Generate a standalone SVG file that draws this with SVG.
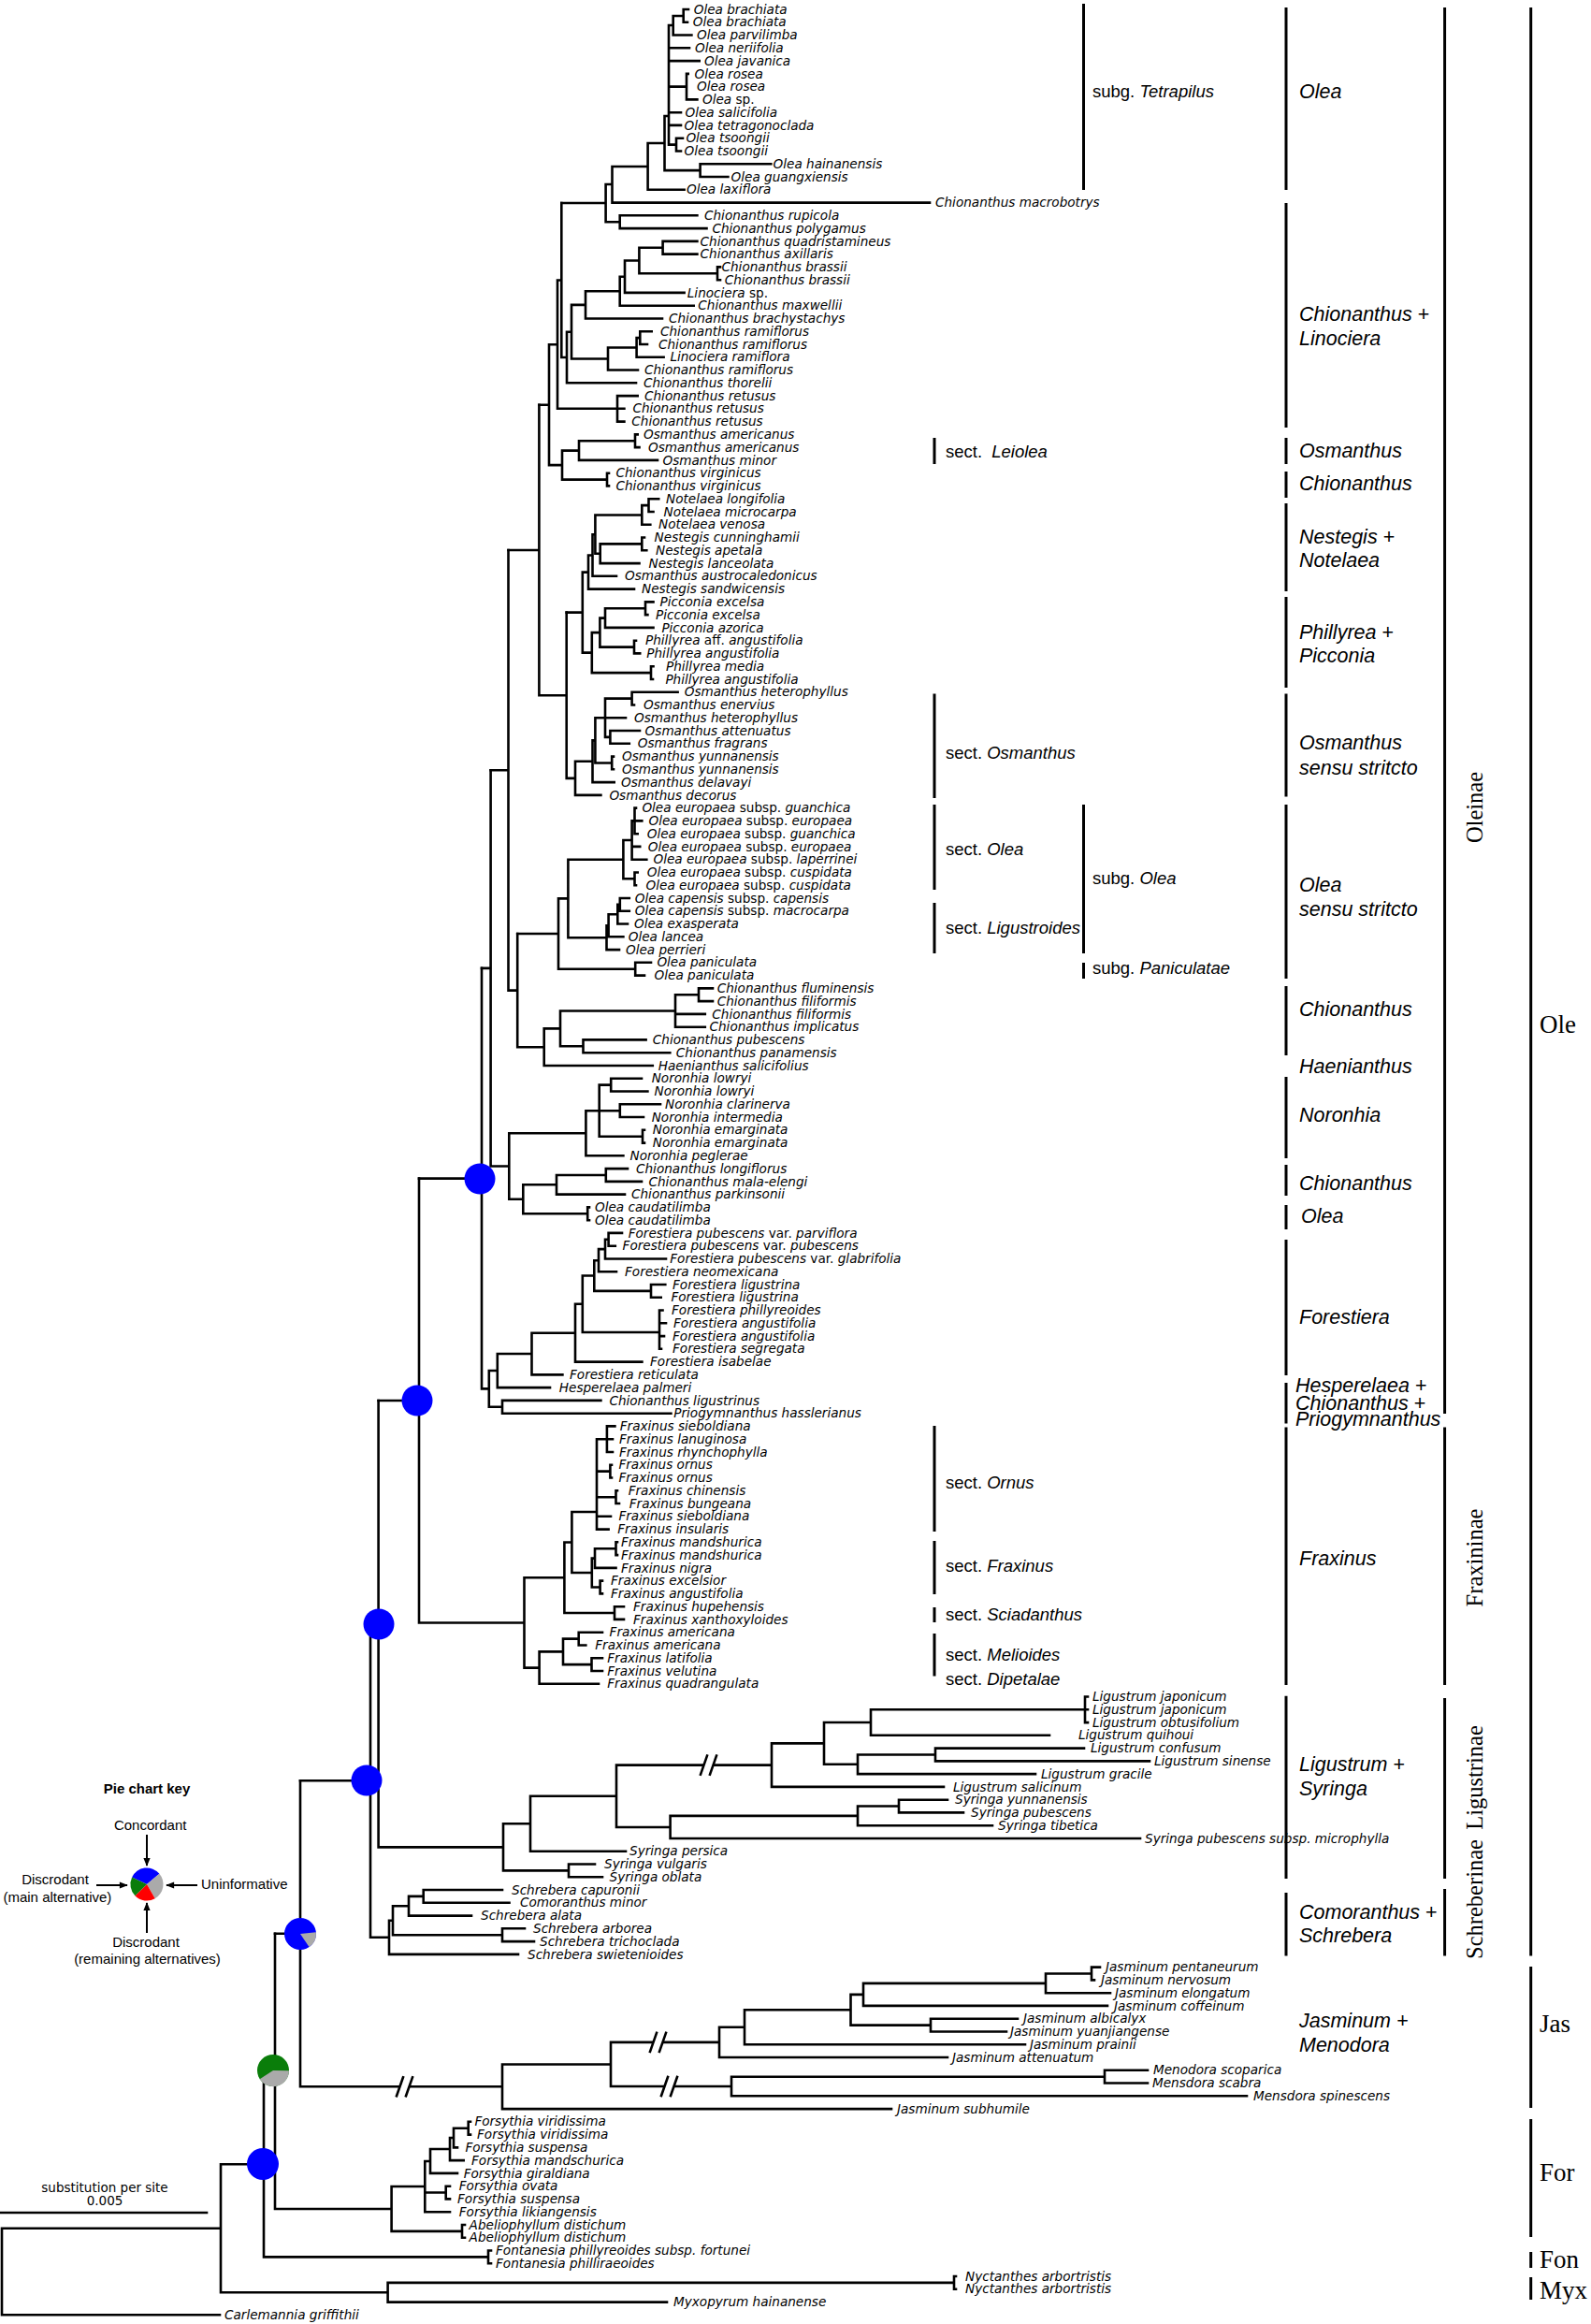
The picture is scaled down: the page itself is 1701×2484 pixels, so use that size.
<svg xmlns="http://www.w3.org/2000/svg" width="1701" height="2484" viewBox="0 0 1701 2484">
<style>
.br{fill:none;stroke:#000;stroke-width:2.6;stroke-linecap:square}
.bar{fill:none;stroke:#000;stroke-width:3}
.t{font-family:"DejaVu Sans",sans-serif;font-size:13.6px;font-style:italic;fill:#000}
.n{font-style:normal}
.i{font-style:italic}
.cl{font-family:"Liberation Sans",Arial,sans-serif;font-size:21.5px;font-style:italic;fill:#000}
.sc{font-family:"Liberation Sans",Arial,sans-serif;font-size:18.5px;fill:#000}
.rt{font-family:"Liberation Serif","Times New Roman",serif;font-size:24.5px;fill:#000}
.tr{font-family:"Liberation Serif","Times New Roman",serif;font-size:27px;fill:#000}
.k{font-family:"Liberation Sans",Arial,sans-serif;font-size:15px;fill:#000}
.sb{font-family:"DejaVu Sans",sans-serif;font-size:13.5px;fill:#000}
.ar{stroke:#000;stroke-width:2;fill:none}
</style>
<defs>
<marker id="ah" viewBox="0 0 10 10" refX="9" refY="5" markerWidth="10" markerHeight="9" orient="auto" markerUnits="userSpaceOnUse"><path d="M0,1 L10,5 L0,9 z" fill="#000"/></marker>
</defs>
<rect width="1701" height="2484" fill="#fff"/>

<g id="connectors">
<path class="br" d="M730.7,10V23.8M730.7,10H736M730.7,23.8H735M719.7,17H730.7M719.7,17V37.5M719.7,37.5H739.4M715,27H719.7M715,27V154.6M715,51.3H737M715,65.1H747.7M715,92.6H734M734,78.9V106.4M734,78.9H735.7M734,106.4H745.4M715,120.2H728M715,133.9H728M715,154.6H723M723,147.7V161.5M723,147.7H730M723,161.5H728M710.5,124H715M710.5,124V182.1M710.5,182.1H748.6M748.6,175.2V189M748.6,175.2H824.3M748.6,189H778.4M692.6,153H710.5M692.6,153V202.8M692.6,202.8H731.6M654.5,178H692.6M654.5,178V216.6M654.5,216.6H994M647.6,197H654.5M647.6,197V237.2M647.6,237.2H662.7M662.7,230.3V244.1M662.7,230.3H745.4M662.7,244.1H755.5M600.3,217H647.6"/>
<path class="br" d="M708.6,257.9V271.6M708.6,257.9H745.4M708.6,271.6H745.4M683.4,264.7H708.6M767,285.4V299.2M767,285.4H770M767,299.2H770M683.4,292.3H767M683.4,264.7V292.3M668,278.5H683.4M668,278.5V312.9M668,312.9H731.6M662.7,295.7H668M662.7,295.7V326.7M662.7,326.7H741.7M626,311.2H662.7M626,311.2V340.5M626,340.5H708M611,325.9H626M684.3,354.2V368M684.3,354.2H696.7M684.3,368H692M680.6,361.1H684.3M680.6,361.1V381.8M680.6,381.8H709.6M650,371.5H680.6M650,371.5V395.5M650,395.5H682M611,383.5H650M611,325.9V383.5M606,354.7H611M606,354.7V409.3M606,409.3H680M600.3,382H606M600.3,217V382M596,299.5H600.3M660,423.1V450.6M660,423.1H681.7M660,436.8H667.4M660,450.6H667.4M596,436.8H660M596,299.5V436.8M587,368.2H596M679,464.4V478.1M679,464.4H681.7M679,478.1H683.5M619,471.3H679M619,471.3V491.9M619,491.9H703M601,481.6H619M649,505.7V519.4M649,505.7H651M649,519.4H651M601,512.6H649M601,481.6V512.6M587,497.1H601M587,368.2V497.1M576.4,432.7H587"/>
<path class="br" d="M693.5,533.2V547M693.5,533.2H704.2M693.5,547H698.5M686.3,540.1H693.5M686.3,540.1V560.8M686.3,560.8H695.3M636.4,550.5H686.3M686.3,574.5V588.3M686.3,574.5H689M686.3,588.3H691.3M641.7,581.4H686.3M641.7,581.4V602.1M641.7,602.1H683.5M636.4,591.8H641.7M636.4,550.5V591.8M633.5,571.2H636.4M633.5,571.2V615.8M633.5,615.8H659M629,593.5H633.5M629,593.5V629.6M629,629.6H678M622.8,611.6H629M690,643.4V657.1M690,643.4H698.5M690,657.1H692.4M647,650.3H690M647,650.3V670.9M647,670.9H698.5M641.4,660.6H647M678,684.7V698.4M678,684.7H680M678,698.4H684.2M641.4,691.6H678M641.4,660.6V691.6M632.8,676.1H641.4M696,712.2V726M696,712.2H698.5M696,726H698M632.8,719.1H696M632.8,676.1V719.1M622.8,697.6H632.8M622.8,611.6V697.6M605.7,654.6H622.8"/>
<path class="br" d="M675.6,739.7V753.5M675.6,739.7H724.6M675.6,753.5H678M647,746.6H675.6M647,767.3H669M652.4,781V794.8M652.4,781H684M652.4,794.8H672.8M647,787.9H652.4M647,746.6V787.9M636.4,767.3H647M654.2,808.6V822.3M654.2,808.6H656M654.2,822.3H656M636.4,815.5H654.2M636.4,767.3V815.5M633.5,791.4H636.4M633.5,791.4V836.1M633.5,836.1H656.7M615,813.8H633.5M615,813.8V849.9M615,849.9H642.4M605.7,831.9H615M605.7,654.6V831.9M576.4,743.3H605.7M576.4,432.7V743.3M543.5,588H576.4"/>
<path class="br" d="M678.5,863.6V891.2M678.5,863.6H680M678.5,877.4H686.3M678.5,891.2H681.7M675.6,877.4H678.5M675.6,877.4V918.7M675.6,904.9H684.2M675.6,918.7H691.3M666.4,898H675.6M678.5,932.5V946.2M678.5,932.5H681.7M678.5,946.2H680M666.4,939.3H678.5M666.4,898V939.3M607.4,918.7H666.4M662.8,960V973.8M662.8,960H672.8M662.8,973.8H672.8M660.3,966.9H662.8M660.3,966.9V987.5M660.3,987.5H671M650.6,977.2H660.3M650.6,977.2V1001.3M650.6,1001.3H666.4M648.5,989.2H650.6M648.5,989.2V1015.1M648.5,1015.1H662M607.4,1002.2H648.5M607.4,918.7V1002.2M597,960.4H607.4M679.2,1028.8V1042.6M679.2,1028.8H696M679.2,1042.6H689M597,1035.7H679.2M597,960.4V1035.7M553.2,998H597"/>
<path class="br" d="M747,1056.4V1070.1M747,1056.4H762M747,1070.1H762M722,1063.2H747M722,1063.2V1097.7M722,1083.9H753.8M722,1097.7H753.8M599,1080.5H722M623.5,1111.4V1125.2M623.5,1111.4H690.6M623.5,1125.2H716.3M599,1118.3H623.5M599,1080.5V1118.3M581.7,1099.4H599M581.7,1099.4V1139M581.7,1139H697.8M553.2,1119.2H581.7M553.2,998V1119.2M543.5,1058.6H553.2M543.5,588V1058.6M524.6,823.3H543.5"/>
<path class="br" d="M653.2,1152.7V1166.5M653.2,1152.7H686M653.2,1166.5H692.4M640.7,1159.6H653.2M662.8,1180.3V1194M662.8,1180.3H706M662.8,1194H688M640.7,1187.2H662.8M687,1207.8V1221.6M687,1207.8H689M687,1221.6H689M640.7,1214.7H687M640.7,1159.6V1214.7M626.4,1187.2H640.7M626.4,1187.2V1235.3M626.4,1235.3H666.4M544.3,1211.3H626.4M647.8,1249.1V1262.9M647.8,1249.1H671M647.8,1262.9H686M595,1256H647.8M595,1256V1276.6M595,1276.6H668M559.3,1266.3H595M628.2,1290.4V1304.2M628.2,1290.4H630M628.2,1304.2H630M559.3,1297.3H628.2M559.3,1266.3V1297.3M544.3,1281.8H559.3M544.3,1211.3V1281.8M524.6,1246.5H544.3M524.6,823.3V1246.5M515,1034.9H524.6"/>
<path class="br" d="M650.6,1317.9V1331.7M650.6,1317.9H665M650.6,1331.7H657.8M647,1324.8H650.6M647,1324.8V1345.5M647,1345.5H712M640,1335.1H647M640,1335.1V1359.2M640,1359.2H659M635.3,1347.2H640M696,1373V1386.8M696,1373H711.3M696,1386.8H706.7M635.3,1379.9H696M635.3,1347.2V1379.9M622.8,1363.5H635.3M705,1400.5V1441.8M705,1400.5H708.5M705,1414.3H712M705,1428.1H710M705,1441.8H707M622.8,1424H705M622.8,1363.5V1424M615,1393.8H622.8M615,1393.8V1455.6M615,1455.6H686.4M568.5,1424.7H615M568.5,1424.7V1469.4M568.5,1469.4H601.4M531.8,1447H568.5M531.8,1447V1483.1M531.8,1483.1H588M522.8,1465H531.8M537,1496.9V1510.7M537,1496.9H642.4M537,1510.7H717.4M522.8,1503.8H537M522.8,1465V1503.8M515,1484.4H522.8M515,1034.9V1484.4M448,1259.6H515"/>
<path class="br" d="M648.9,1524.4V1552M648.9,1524.4H657.4M648.9,1538.2H655M648.9,1552H655M638,1538.2H648.9M652.4,1565.7V1579.5M652.4,1565.7H654M652.4,1579.5H654M638,1572.6H652.4M658.5,1593.3V1607M658.5,1593.3H660M658.5,1607H662M638,1600.2H658.5M638,1620.8H653M638,1634.6H650.6M638,1538.2V1634.6M611.4,1616H638M658.5,1648.3V1662.1M658.5,1648.3H660M658.5,1662.1H660M636,1655.2H658.5M636,1655.2V1675.9M636,1675.9H658.5M632.8,1665.6H636M641.6,1689.6V1703.4M641.6,1689.6H644M641.6,1703.4H644M632.8,1696.5H641.6M632.8,1665.6V1696.5M611.4,1681H632.8M611.4,1616V1681M603.4,1648.5H611.4M657,1717.2V1730.9M657,1717.2H667M657,1730.9H667M603.4,1724H657M603.4,1648.5V1724M560.5,1686.3H603.4M618.7,1744.7V1758.5M618.7,1744.7H644M618.7,1758.5H626.3M602,1751.6H618.7M632.5,1772.2V1786M632.5,1772.2H644M632.5,1786H644M602,1779.1H632.5M602,1751.6V1779.1M576.6,1765.4H602M576.6,1765.4V1799.8M576.6,1799.8H640M560.5,1782.6H576.6M560.5,1686.3V1782.6M448,1734.5H560.5M448,1259.6V1734.5M404.6,1497H448"/>
<path class="br" d="M1160,1813.5V1841.1M1160,1813.5H1163M1160,1827.3H1163M1160,1841.1H1163M931,1827.3H1160M931,1854.8H1122M931,1827.3V1854.8M881,1841H931M1000,1868.6V1882.4M1000,1868.6H1159M1000,1882.4H1229M917,1875.5H1000M917,1875.5V1896.1M917,1896.1H1107M881,1885.8H917M881,1841V1885.8M825,1863.4H881M825,1863.4V1909.9M825,1909.9H1009M659,1886.6H825M961,1923.7V1937.4M961,1923.7H1013M961,1937.4H1030M917,1930.5H961M917,1930.5V1951.2M917,1951.2H1061M716.6,1940.9H917M716.6,1940.9V1965M716.6,1965H1219M659,1953H716.6M659,1886.6V1953M567,1919.8H659M567,1919.8V1978.7M567,1978.7H669M538,1949.3H567M608,1992.5V2006.3M608,1992.5H636M608,2006.3H644M538,1999.4H608M538,1949.3V1999.4M404.6,1974.4H538M404.6,1497V1974.4M396,1735.7H404.6"/>
<path class="br" d="M452.7,2020V2033.8M452.7,2020H537M452.7,2033.8H544.5M437,2026.9H452.7M437,2026.9V2047.6M437,2047.6H504M420,2037.2H437M537,2061.3V2075.1M537,2061.3H561M537,2075.1H571M420,2068.2H537M420,2037.2V2068.2M416,2052.7H420M416,2052.7V2088.9M416,2088.9H554M396,2070.8H416M396,1735.7V2070.8M321,1903.2H396"/>
<path class="br" d="M1167,2102.6V2116.4M1167,2102.6H1176M1167,2116.4H1170M1118,2109.5H1167M1118,2109.5V2130.2M1118,2130.2H1187M923,2119.9H1118M923,2119.9V2143.9M923,2143.9H1184M909.5,2131.9H923M995,2157.7V2171.5M995,2157.7H1088M995,2171.5H1076M909.5,2164.6H995M909.5,2131.9V2164.6M796,2148.3H909.5M796,2148.3V2185.2M796,2185.2H1096M769,2166.8H796M769,2166.8V2199M769,2199H1013M653,2182.9H769M1181,2212.8V2226.5M1181,2212.8H1227M1181,2226.5H1227M782,2219.7H1181M782,2219.7V2240.3M782,2240.3H1333M653,2230H782M653,2182.9V2230M537,2206.5H653M537,2206.5V2254.1M537,2254.1H953M321,2230.3H537M321,1903.2V2230.3M294,2066.8H321"/>
<path class="br" d="M500.7,2267.8V2281.6M500.7,2267.8H503M500.7,2281.6H503M485,2274.7H500.7M485,2274.7V2295.4M485,2295.4H489M481,2285H485M481,2285V2309.1M481,2309.1H495.7M460,2297H481M460,2297V2322.9M460,2322.9H489M454.3,2310H460M476.7,2336.7V2350.4M476.7,2336.7H481M476.7,2350.4H481M454.3,2343.5H476.7M454.3,2364.2H481M454.3,2310V2364.2M418.6,2337H454.3M494,2378V2391.7M494,2378H497M494,2391.7H497M418.6,2384.9H494M418.6,2337V2384.9M294,2361H418.6M294,2066.8V2361M282,2213.9H294M522,2405.5V2419.3M522,2405.5H525M522,2419.3H525M282,2412.4H522M282,2213.9V2412.4M236,2313.2H282M1020,2433V2446.8M1020,2433H1022M1020,2446.8H1022M414.6,2439.9H1020M414.6,2439.9V2460.6M414.6,2460.6H713M236,2450.3H414.6M236,2313.2V2450.3M2,2381.7H236M2,2381.7V2474.3M2,2474.3H235"/>
<g id="breaks">
<rect x="753" y="1883" width="9" height="7" fill="#fff"/>
<path class="br" d="M749,1896.6L756,1876.6M759,1896.6L766,1876.6"/>
<rect x="428" y="2227" width="9" height="7" fill="#fff"/>
<path class="br" d="M424,2240.3L431,2220.3M434,2240.3L441,2220.3"/>
<rect x="699" y="2179" width="9" height="7" fill="#fff"/>
<path class="br" d="M695,2192.9L702,2172.9M705,2192.9L712,2172.9"/>
<rect x="711" y="2226" width="9" height="7" fill="#fff"/>
<path class="br" d="M707,2240L714,2220M717,2240L724,2220"/>
</g>
</g>

<g id="node-pies">
<g id="pie-oleinae-core"><circle cx="513" cy="1260" r="16.5" fill="#0000ff"/></g>
<g id="pie-oleinae"><circle cx="446" cy="1497" r="16.5" fill="#0000ff"/></g>
<g id="pie-ligustr"><circle cx="405" cy="1736" r="16.5" fill="#0000ff"/></g>
<g id="pie-schreb"><circle cx="392" cy="1903" r="16.5" fill="#0000ff"/></g>
<g id="pie-ole-jas"><circle cx="321" cy="2067" r="17" fill="#0000ff"/><path d="M321,2067L337.9,2065.2A17,17 0 0 1 330.5,2081.1Z" fill="#aaaaaa"/></g>
<g id="pie-for"><circle cx="292" cy="2213" r="17" fill="#0a7d0a"/><path d="M292,2213L309,2213.3A17,17 0 0 1 277.7,2222.3Z" fill="#aaaaaa"/></g>
<g id="pie-fon"><circle cx="281" cy="2313" r="17" fill="#0000ff"/></g>
</g>

<g id="tips">
<text id="tip1" class="t" x="741.7" y="14.6">Olea brachiata</text>
<text id="tip2" class="t" x="740.8" y="28.4">Olea brachiata</text>
<text id="tip3" class="t" x="745" y="42.1">Olea parvilimba</text>
<text id="tip4" class="t" x="743" y="55.9">Olea neriifolia</text>
<text id="tip5" class="t" x="753" y="69.7">Olea javanica</text>
<text id="tip6" class="t" x="742.6" y="83.5">Olea rosea</text>
<text id="tip7" class="t" x="745" y="97.2">Olea rosea</text>
<text id="tip8" class="t" x="751" y="111">Olea <tspan class="n">sp.</tspan></text>
<text id="tip9" class="t" x="732.5" y="124.8">Olea salicifolia</text>
<text id="tip10" class="t" x="731.6" y="138.5">Olea tetragonoclada</text>
<text id="tip11" class="t" x="733.4" y="152.3">Olea tsoongii</text>
<text id="tip12" class="t" x="731.6" y="166.1">Olea tsoongii</text>
<text id="tip13" class="t" x="826.6" y="179.8">Olea hainanensis</text>
<text id="tip14" class="t" x="781.6" y="193.6">Olea guangxiensis</text>
<text id="tip15" class="t" x="734" y="207.4">Olea laxiflora</text>
<text id="tip16" class="t" x="1000" y="221.2">Chionanthus macrobotrys</text>
<text id="tip17" class="t" x="753" y="234.9">Chionanthus rupicola</text>
<text id="tip18" class="t" x="761.4" y="248.7">Chionanthus polygamus</text>
<text id="tip19" class="t" x="748.6" y="262.5">Chionanthus quadristamineus</text>
<text id="tip20" class="t" x="748.6" y="276.2">Chionanthus axillaris</text>
<text id="tip21" class="t" x="771.5" y="290">Chionanthus brassii</text>
<text id="tip22" class="t" x="774.7" y="303.8">Chionanthus brassii</text>
<text id="tip23" class="t" x="734.8" y="317.5">Linociera <tspan class="n">sp.</tspan></text>
<text id="tip24" class="t" x="746.3" y="331.3">Chionanthus maxwellii</text>
<text id="tip25" class="t" x="715" y="345.1">Chionanthus brachystachys</text>
<text id="tip26" class="t" x="706" y="358.8">Chionanthus ramiflorus</text>
<text id="tip27" class="t" x="704" y="372.6">Chionanthus ramiflorus</text>
<text id="tip28" class="t" x="716.4" y="386.4">Linociera ramiflora</text>
<text id="tip29" class="t" x="689" y="400.1">Chionanthus ramiflorus</text>
<text id="tip30" class="t" x="688" y="413.9">Chionanthus thorelii</text>
<text id="tip31" class="t" x="689" y="427.7">Chionanthus retusus</text>
<text id="tip32" class="t" x="676.4" y="441.4">Chionanthus retusus</text>
<text id="tip33" class="t" x="675.3" y="455.2">Chionanthus retusus</text>
<text id="tip34" class="t" x="688" y="469">Osmanthus americanus</text>
<text id="tip35" class="t" x="693" y="482.7">Osmanthus americanus</text>
<text id="tip36" class="t" x="708.5" y="496.5">Osmanthus minor</text>
<text id="tip37" class="t" x="658.5" y="510.3">Chionanthus virginicus</text>
<text id="tip38" class="t" x="658.5" y="524">Chionanthus virginicus</text>
<text id="tip39" class="t" x="712" y="537.8">Notelaea longifolia</text>
<text id="tip40" class="t" x="709.6" y="551.6">Notelaea microcarpa</text>
<text id="tip41" class="t" x="704" y="565.4">Notelaea venosa</text>
<text id="tip42" class="t" x="699.6" y="579.1">Nestegis cunninghamii</text>
<text id="tip43" class="t" x="701" y="592.9">Nestegis apetala</text>
<text id="tip44" class="t" x="693.5" y="606.7">Nestegis lanceolata</text>
<text id="tip45" class="t" x="668" y="620.4">Osmanthus austrocaledonicus</text>
<text id="tip46" class="t" x="686" y="634.2">Nestegis sandwicensis</text>
<text id="tip47" class="t" x="705.6" y="648">Picconia excelsa</text>
<text id="tip48" class="t" x="701" y="661.7">Picconia excelsa</text>
<text id="tip49" class="t" x="707.4" y="675.5">Picconia azorica</text>
<text id="tip50" class="t" x="690" y="689.3">Phillyrea <tspan class="n">aff.</tspan> angustifolia</text>
<text id="tip51" class="t" x="691.3" y="703">Phillyrea angustifolia</text>
<text id="tip52" class="t" x="712" y="716.8">Phillyrea media</text>
<text id="tip53" class="t" x="711.4" y="730.6">Phillyrea angustifolia</text>
<text id="tip54" class="t" x="731.7" y="744.3">Osmanthus heterophyllus</text>
<text id="tip55" class="t" x="688" y="758.1">Osmanthus enervius</text>
<text id="tip56" class="t" x="678" y="771.9">Osmanthus heterophyllus</text>
<text id="tip57" class="t" x="689.6" y="785.6">Osmanthus attenuatus</text>
<text id="tip58" class="t" x="681.7" y="799.4">Osmanthus fragrans</text>
<text id="tip59" class="t" x="665" y="813.2">Osmanthus yunnanensis</text>
<text id="tip60" class="t" x="665" y="826.9">Osmanthus yunnanensis</text>
<text id="tip61" class="t" x="664" y="840.7">Osmanthus delavayi</text>
<text id="tip62" class="t" x="651.4" y="854.5">Osmanthus decorus</text>
<text id="tip63" class="t" x="686.4" y="868.2">Olea europaea <tspan class="n">subsp.</tspan> guanchica</text>
<text id="tip64" class="t" x="693.5" y="882">Olea europaea <tspan class="n">subsp.</tspan> europaea</text>
<text id="tip65" class="t" x="691.7" y="895.8">Olea europaea <tspan class="n">subsp.</tspan> guanchica</text>
<text id="tip66" class="t" x="692.8" y="909.5">Olea europaea <tspan class="n">subsp.</tspan> europaea</text>
<text id="tip67" class="t" x="698.5" y="923.3">Olea europaea <tspan class="n">subsp.</tspan> laperrinei</text>
<text id="tip68" class="t" x="691.7" y="937.1">Olea europaea <tspan class="n">subsp.</tspan> cuspidata</text>
<text id="tip69" class="t" x="690.6" y="950.8">Olea europaea <tspan class="n">subsp.</tspan> cuspidata</text>
<text id="tip70" class="t" x="678.8" y="964.6">Olea capensis <tspan class="n">subsp.</tspan> capensis</text>
<text id="tip71" class="t" x="678.8" y="978.4">Olea capensis <tspan class="n">subsp.</tspan> macrocarpa</text>
<text id="tip72" class="t" x="678" y="992.1">Olea exasperata</text>
<text id="tip73" class="t" x="671.7" y="1005.9">Olea lancea</text>
<text id="tip74" class="t" x="669" y="1019.7">Olea perrieri</text>
<text id="tip75" class="t" x="702.4" y="1033.4">Olea paniculata</text>
<text id="tip76" class="t" x="699.6" y="1047.2">Olea paniculata</text>
<text id="tip77" class="t" x="766.7" y="1061">Chionanthus fluminensis</text>
<text id="tip78" class="t" x="766.7" y="1074.7">Chionanthus filiformis</text>
<text id="tip79" class="t" x="761.3" y="1088.5">Chionanthus filiformis</text>
<text id="tip80" class="t" x="758.5" y="1102.3">Chionanthus implicatus</text>
<text id="tip81" class="t" x="697.8" y="1116">Chionanthus pubescens</text>
<text id="tip82" class="t" x="722.8" y="1129.8">Chionanthus panamensis</text>
<text id="tip83" class="t" x="703.8" y="1143.6">Haenianthus salicifolius</text>
<text id="tip84" class="t" x="696.7" y="1157.3">Noronhia lowryi</text>
<text id="tip85" class="t" x="699.6" y="1171.1">Noronhia lowryi</text>
<text id="tip86" class="t" x="711" y="1184.9">Noronhia clarinerva</text>
<text id="tip87" class="t" x="696.7" y="1198.6">Noronhia intermedia</text>
<text id="tip88" class="t" x="697.8" y="1212.4">Noronhia emarginata</text>
<text id="tip89" class="t" x="697.8" y="1226.2">Noronhia emarginata</text>
<text id="tip90" class="t" x="673.5" y="1239.9">Noronhia peglerae</text>
<text id="tip91" class="t" x="680" y="1253.7">Chionanthus longiflorus</text>
<text id="tip92" class="t" x="693.5" y="1267.5">Chionanthus mala-elengi</text>
<text id="tip93" class="t" x="675" y="1281.2">Chionanthus parkinsonii</text>
<text id="tip94" class="t" x="636" y="1295">Olea caudatilimba</text>
<text id="tip95" class="t" x="636" y="1308.8">Olea caudatilimba</text>
<text id="tip96" class="t" x="671.7" y="1322.5">Forestiera pubescens <tspan class="n">var.</tspan> parviflora</text>
<text id="tip97" class="t" x="665.6" y="1336.3">Forestiera pubescens <tspan class="n">var.</tspan> pubescens</text>
<text id="tip98" class="t" x="716.3" y="1350.1">Forestiera pubescens <tspan class="n">var.</tspan> glabrifolia</text>
<text id="tip99" class="t" x="668" y="1363.8">Forestiera neomexicana</text>
<text id="tip100" class="t" x="719" y="1377.6">Forestiera ligustrina</text>
<text id="tip101" class="t" x="717.4" y="1391.4">Forestiera ligustrina</text>
<text id="tip102" class="t" x="718" y="1405.1">Forestiera phillyreoides</text>
<text id="tip103" class="t" x="720" y="1418.9">Forestiera angustifolia</text>
<text id="tip104" class="t" x="719" y="1432.7">Forestiera angustifolia</text>
<text id="tip105" class="t" x="719" y="1446.4">Forestiera segregata</text>
<text id="tip106" class="t" x="695" y="1460.2">Forestiera isabelae</text>
<text id="tip107" class="t" x="609" y="1474">Forestiera reticulata</text>
<text id="tip108" class="t" x="597.8" y="1487.7">Hesperelaea palmeri</text>
<text id="tip109" class="t" x="651.4" y="1501.5">Chionanthus ligustrinus</text>
<text id="tip110" class="t" x="720.3" y="1515.3">Priogymnanthus hasslerianus</text>
<text id="tip111" class="t" x="662.8" y="1529">Fraxinus sieboldiana</text>
<text id="tip112" class="t" x="662" y="1542.8">Fraxinus lanuginosa</text>
<text id="tip113" class="t" x="662" y="1556.6">Fraxinus rhynchophylla</text>
<text id="tip114" class="t" x="661.4" y="1570.3">Fraxinus ornus</text>
<text id="tip115" class="t" x="661.4" y="1584.1">Fraxinus ornus</text>
<text id="tip116" class="t" x="671.7" y="1597.9">Fraxinus chinensis</text>
<text id="tip117" class="t" x="672.8" y="1611.6">Fraxinus bungeana</text>
<text id="tip118" class="t" x="661.4" y="1625.4">Fraxinus sieboldiana</text>
<text id="tip119" class="t" x="660.3" y="1639.2">Fraxinus insularis</text>
<text id="tip120" class="t" x="664" y="1652.9">Fraxinus mandshurica</text>
<text id="tip121" class="t" x="664" y="1666.7">Fraxinus mandshurica</text>
<text id="tip122" class="t" x="664" y="1680.5">Fraxinus nigra</text>
<text id="tip123" class="t" x="653" y="1694.2">Fraxinus excelsior</text>
<text id="tip124" class="t" x="653" y="1708">Fraxinus angustifolia</text>
<text id="tip125" class="t" x="677" y="1721.8">Fraxinus hupehensis</text>
<text id="tip126" class="t" x="677" y="1735.5">Fraxinus xanthoxyloides</text>
<text id="tip127" class="t" x="651.6" y="1749.3">Fraxinus americana</text>
<text id="tip128" class="t" x="636.3" y="1763.1">Fraxinus americana</text>
<text id="tip129" class="t" x="649.3" y="1776.8">Fraxinus latifolia</text>
<text id="tip130" class="t" x="649.3" y="1790.6">Fraxinus velutina</text>
<text id="tip131" class="t" x="649.3" y="1804.4">Fraxinus quadrangulata</text>
<text id="tip132" class="t" x="1168" y="1818.1">Ligustrum japonicum</text>
<text id="tip133" class="t" x="1168" y="1831.9">Ligustrum japonicum</text>
<text id="tip134" class="t" x="1168" y="1845.7">Ligustrum obtusifolium</text>
<text id="tip135" class="t" x="1153" y="1859.4">Ligustrum quihoui</text>
<text id="tip136" class="t" x="1166" y="1873.2">Ligustrum confusum</text>
<text id="tip137" class="t" x="1234" y="1887">Ligustrum sinense</text>
<text id="tip138" class="t" x="1113" y="1900.7">Ligustrum gracile</text>
<text id="tip139" class="t" x="1019" y="1914.5">Ligustrum salicinum</text>
<text id="tip140" class="t" x="1021" y="1928.3">Syringa yunnanensis</text>
<text id="tip141" class="t" x="1038" y="1942">Syringa pubescens</text>
<text id="tip142" class="t" x="1067" y="1955.8">Syringa tibetica</text>
<text id="tip143" class="t" x="1224" y="1969.6">Syringa pubescens subsp. microphylla</text>
<text id="tip144" class="t" x="673" y="1983.3">Syringa persica</text>
<text id="tip145" class="t" x="646" y="1997.1">Syringa vulgaris</text>
<text id="tip146" class="t" x="651.6" y="2010.9">Syringa oblata</text>
<text id="tip147" class="t" x="547" y="2024.6">Schrebera capuronii</text>
<text id="tip148" class="t" x="556" y="2038.4">Comoranthus minor</text>
<text id="tip149" class="t" x="514" y="2052.2">Schrebera alata</text>
<text id="tip150" class="t" x="570" y="2065.9">Schrebera arborea</text>
<text id="tip151" class="t" x="577" y="2079.7">Schrebera trichoclada</text>
<text id="tip152" class="t" x="564" y="2093.5">Schrebera swietenioides</text>
<text id="tip153" class="t" x="1182" y="2107.2">Jasminum pentaneurum</text>
<text id="tip154" class="t" x="1177" y="2121">Jasminum nervosum</text>
<text id="tip155" class="t" x="1192" y="2134.8">Jasminum elongatum</text>
<text id="tip156" class="t" x="1191" y="2148.5">Jasminum coffeinum</text>
<text id="tip157" class="t" x="1094" y="2162.3">Jasminum albicalyx</text>
<text id="tip158" class="t" x="1080" y="2176.1">Jasminum yuanjiangense</text>
<text id="tip159" class="t" x="1101" y="2189.8">Jasminum prainii</text>
<text id="tip160" class="t" x="1018" y="2203.6">Jasminum attenuatum</text>
<text id="tip161" class="t" x="1233" y="2217.4">Menodora scoparica</text>
<text id="tip162" class="t" x="1232" y="2231.1">Mensdora scabra</text>
<text id="tip163" class="t" x="1340" y="2244.9">Mensdora spinescens</text>
<text id="tip164" class="t" x="959" y="2258.7">Jasminum subhumile</text>
<text id="tip165" class="t" x="507.4" y="2272.4">Forsythia viridissima</text>
<text id="tip166" class="t" x="510" y="2286.2">Forsythia viridissima</text>
<text id="tip167" class="t" x="497.4" y="2300">Forsythia suspensa</text>
<text id="tip168" class="t" x="504" y="2313.7">Forsythia mandschurica</text>
<text id="tip169" class="t" x="495.7" y="2327.5">Forsythia giraldiana</text>
<text id="tip170" class="t" x="490.8" y="2341.3">Forsythia ovata</text>
<text id="tip171" class="t" x="489" y="2355">Forsythia suspensa</text>
<text id="tip172" class="t" x="490.8" y="2368.8">Forsythia likiangensis</text>
<text id="tip173" class="t" x="501.6" y="2382.6">Abeliophyllum distichum</text>
<text id="tip174" class="t" x="501.6" y="2396.3">Abeliophyllum distichum</text>
<text id="tip175" class="t" x="530" y="2410.1">Fontanesia phillyreoides subsp. fortunei</text>
<text id="tip176" class="t" x="530" y="2423.9">Fontanesia philliraeoides</text>
<text id="tip177" class="t" x="1032" y="2437.6">Nyctanthes arbortristis</text>
<text id="tip178" class="t" x="1032" y="2451.4">Nyctanthes arbortristis</text>
<text id="tip179" class="t" x="720" y="2465.2">Myxopyrum hainanense</text>
<text id="tip180" class="t" x="240" y="2478.9">Carlemannia griffithii</text>
</g>

<g id="section-labels">
<path class="bar" d="M1158.5,4V203M1158.5,860V1019M1158.5,1029V1046"/>
<path class="bar" d="M999,468V496M999,741.6V853M999,860V951M999,965V1019M999,1524V1637M999,1647V1704M999,1718V1734M999,1746V1791.5"/>
<text class="sc" x="1168" y="103.6">subg. <tspan class="i">Tetrapilus</tspan></text>
<text class="sc" x="1011" y="488.6">sect. <tspan class="i" dx="5">Leiolea</tspan></text>
<text class="sc" x="1011" y="810.6">sect. <tspan class="i">Osmanthus</tspan></text>
<text class="sc" x="1011" y="914">sect. <tspan class="i">Olea</tspan></text>
<text class="sc" x="1168" y="944.6">subg. <tspan class="i">Olea</tspan></text>
<text class="sc" x="1011" y="997.6">sect. <tspan class="i">Ligustroides</tspan></text>
<text class="sc" x="1168" y="1040.6">subg. <tspan class="i">Paniculatae</tspan></text>
<text class="sc" x="1011" y="1591">sect. <tspan class="i">Ornus</tspan></text>
<text class="sc" x="1011" y="1680">sect. <tspan class="i">Fraxinus</tspan></text>
<text class="sc" x="1011" y="1731.6">sect. <tspan class="i">Sciadanthus</tspan></text>
<text class="sc" x="1011" y="1775">sect. <tspan class="i">Melioides</tspan></text>
<text class="sc" x="1011" y="1801">sect. <tspan class="i">Dipetalae</tspan></text>
</g>

<g id="clade-labels">
<path class="bar" d="M1375,8V203M1375,217V457M1375,468V496M1375,504V532M1375,538V632M1375,638V735M1375,741.6V851.6M1375,860V1046M1375,1054V1128M1375,1151V1238M1375,1245V1278M1375,1288V1314M1375,1325V1470M1375,1478V1521.5M1375,1525.5V1801M1375,1812.7V2008M1375,2023V2090.5"/>
<text class="cl" x="1389" y="104.5">Olea</text>
<text class="cl" x="1389" y="342.5">Chionanthus <tspan class="n">+</tspan></text>
<text class="cl" x="1389" y="368.5">Linociera</text>
<text class="cl" x="1389" y="488.5">Osmanthus</text>
<text class="cl" x="1389" y="523.5">Chionanthus</text>
<text class="cl" x="1389" y="580.5">Nestegis <tspan class="n">+</tspan></text>
<text class="cl" x="1389" y="605.5">Notelaea</text>
<text class="cl" x="1389" y="682.5">Phillyrea <tspan class="n">+</tspan></text>
<text class="cl" x="1389" y="707.5">Picconia</text>
<text class="cl" x="1389" y="800.5">Osmanthus</text>
<text class="cl n" x="1389" y="827.5">sensu stritcto</text>
<text class="cl" x="1389" y="952.5">Olea</text>
<text class="cl n" x="1389" y="978.5">sensu stritcto</text>
<text class="cl" x="1389" y="1085.5">Chionanthus</text>
<text class="cl" x="1389" y="1146.5">Haenianthus</text>
<text class="cl" x="1389" y="1198.5">Noronhia</text>
<text class="cl" x="1389" y="1271.5">Chionanthus</text>
<text class="cl" x="1391" y="1306.5">Olea</text>
<text class="cl" x="1389" y="1414.5">Forestiera</text>
<text class="cl" x="1385" y="1487.5">Hesperelaea <tspan class="n">+</tspan></text>
<text class="cl" x="1385" y="1506.5">Chionanthus <tspan class="n">+</tspan></text>
<text class="cl" x="1385" y="1523.5">Priogymnanthus</text>
<text class="cl" x="1389" y="1672.5">Fraxinus</text>
<text class="cl" x="1389" y="1892.5">Ligustrum <tspan class="n">+</tspan></text>
<text class="cl" x="1389" y="1918.5">Syringa</text>
<text class="cl" x="1389" y="2050.5">Comoranthus <tspan class="n">+</tspan></text>
<text class="cl" x="1389" y="2076">Schrebera</text>
<text class="cl n" x="1389" y="2166.5">Jasminum +</text>
<text class="cl n" x="1389" y="2192.5">Menodora</text>
</g>

<g id="subtribes">
<path class="bar" d="M1544.6,8V1511M1544.6,1525.5V1801M1544.6,1815V2008M1544.6,2019V2090.5"/>
<text class="rt" transform="translate(1585,863) rotate(-90)" text-anchor="middle">Oleinae</text>
<text class="rt" transform="translate(1585,1665) rotate(-90)" text-anchor="middle">Fraxininae</text>
<text class="rt" transform="translate(1585,1900) rotate(-90)" text-anchor="middle">Ligustrinae</text>
<text class="rt" transform="translate(1585,2030) rotate(-90)" text-anchor="middle">Schreberinae</text>
</g>

<g id="tribes">
<path class="bar" d="M1636.7,8V2090.5M1636.7,2102V2253M1636.7,2265V2391M1636.7,2407V2424M1636.7,2434V2458"/>
<text class="tr" x="1646" y="1104">Ole</text>
<text class="tr" x="1646" y="2172">Jas</text>
<text class="tr" x="1646" y="2331">For</text>
<text class="tr" x="1646" y="2424">Fon</text>
<text class="tr" x="1646" y="2457">Myx</text>
</g>

<g id="pie-key">
<text class="k" x="157" y="1917" text-anchor="middle" font-weight="bold" font-size="17">Pie chart key</text>
<text class="k" x="160.7" y="1956" text-anchor="middle">Concordant</text>
<text class="k" x="59" y="2014" text-anchor="middle">Discrodant</text>
<text class="k" x="61.4" y="2033" text-anchor="middle">(main alternative)</text>
<text class="k" x="215" y="2019">Uninformative</text>
<text class="k" x="156" y="2081" text-anchor="middle">Discrodant</text>
<text class="k" x="157.5" y="2099" text-anchor="middle" font-size="15.5">(remaining alternatives)</text>
<path d="M157,2014L141.1,2006.6A17.5,17.5 0 0 1 170.4,2002.7Z" fill="#0000ff"/>
<path d="M157,2014L170.4,2002.7A17.5,17.5 0 0 1 165.75,2029.2Z" fill="#aaaaaa"/>
<path d="M157,2014L165.75,2029.2A17.5,17.5 0 0 1 144.4,2026.2Z" fill="#ff0000"/>
<path d="M157,2014L144.4,2026.2A17.5,17.5 0 0 1 141.1,2006.6Z" fill="#0a7d0a"/>
<line class="ar" x1="157" y1="1961" x2="157" y2="1994" marker-end="url(#ah)"/>
<line class="ar" x1="103" y1="2015" x2="136" y2="2015" marker-end="url(#ah)"/>
<line class="ar" x1="211" y1="2015" x2="178" y2="2015" marker-end="url(#ah)"/>
<line class="ar" x1="157" y1="2066" x2="157" y2="2034" marker-end="url(#ah)"/>
</g>

<g id="scale-bar">
<text class="sb" x="112" y="2343" text-anchor="middle">substitution per site</text>
<text class="sb" x="112" y="2357" text-anchor="middle">0.005</text>
<path class="br" d="M1,2365H221" stroke-linecap="butt"/>
</g>
</svg>
